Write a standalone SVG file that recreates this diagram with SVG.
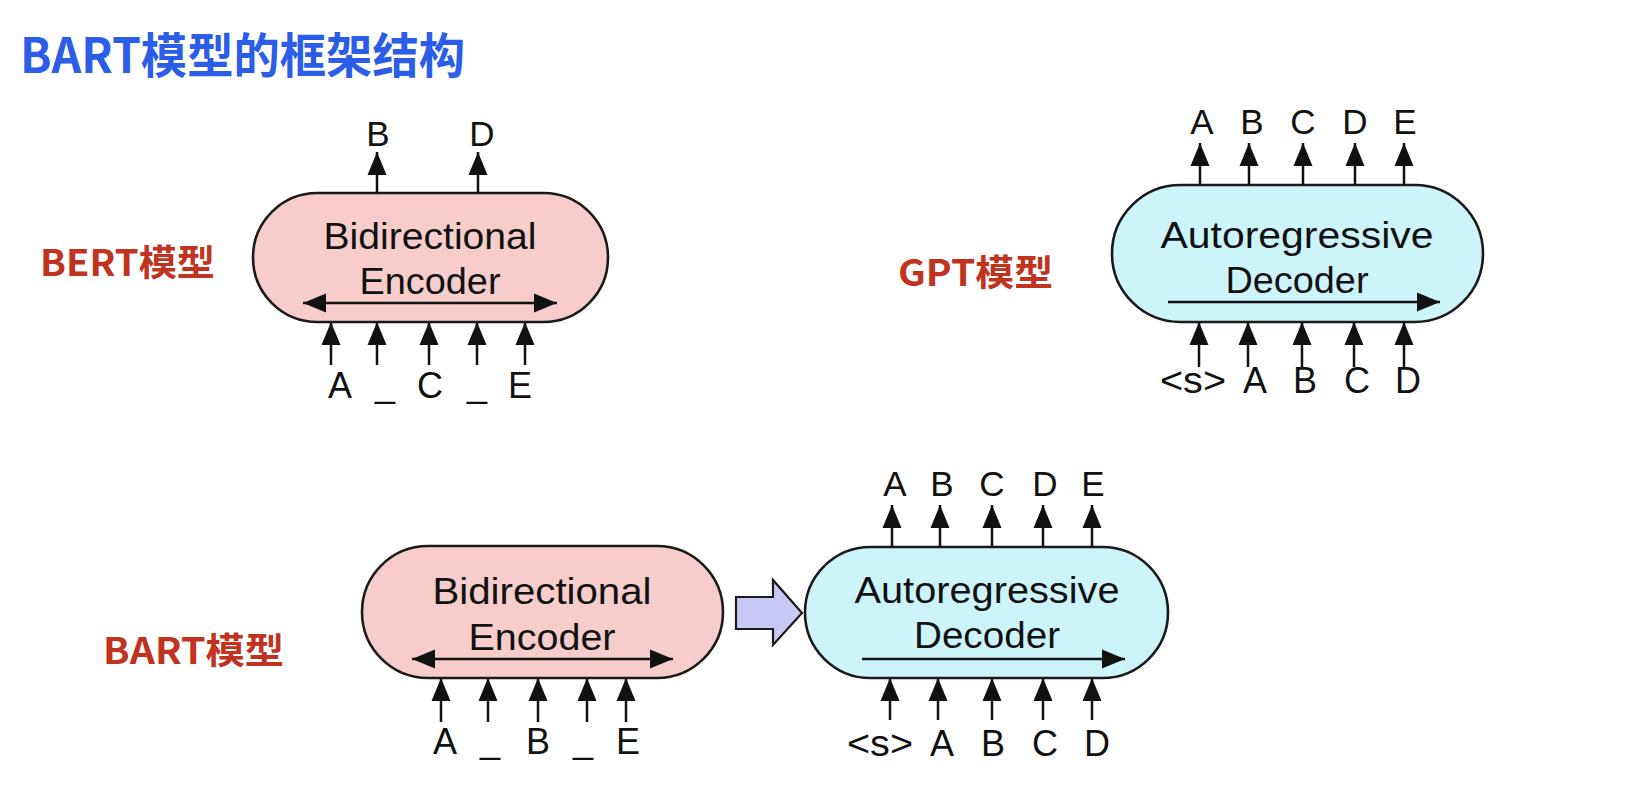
<svg xmlns="http://www.w3.org/2000/svg" width="1642" height="794" viewBox="0 0 1642 794">
<style>
.title{font-family:"Noto Sans CJK SC","Noto Sans",sans-serif;font-weight:700;font-size:48px;fill:#2b5de8}
.lbl{font-family:"Noto Sans CJK SC","Noto Sans",sans-serif;font-weight:700;font-size:36px;fill:#c0331f}
.enc{fill:#f6cdca;stroke:#1a1a1a;stroke-width:2.6}
.dec{fill:#cdf4fb;stroke:#1a1a1a;stroke-width:2.6}
.bt{font-family:"Liberation Sans",Arial,sans-serif;font-size:36px;fill:#111;text-anchor:middle}
.tk{font-family:"Liberation Sans",Arial,sans-serif;font-size:35px;fill:#111;text-anchor:middle}
.tkb{font-family:"Liberation Sans",Arial,sans-serif;font-size:36px;fill:#111;text-anchor:middle}
.ar{stroke:#111;stroke-width:2.5;fill:none;marker-end:url(#ah)}
.dar{stroke:#111;stroke-width:2.5;fill:none;marker-end:url(#ah);marker-start:url(#ah)}
</style>
<defs>
<marker id="ah" markerUnits="userSpaceOnUse" markerWidth="24" markerHeight="20" refX="23" refY="10" orient="auto-start-reverse">
<path d="M0,0.5 L23,10 L0,19.5 z" fill="#111"/>
</marker>
</defs>
<rect width="1642" height="794" fill="#ffffff"/>
<text class="title" x="20" y="73" textLength="445" lengthAdjust="spacingAndGlyphs">BART模型的框架结构</text>

<g id="label-bert"><text class="lbl" x="40" y="276" textLength="175" lengthAdjust="spacingAndGlyphs">BERT模型</text></g>
<g id="label-gpt"><text class="lbl" x="898" y="286" textLength="155" lengthAdjust="spacingAndGlyphs">GPT模型</text></g>
<g id="label-bart"><text class="lbl" x="103" y="664" textLength="181" lengthAdjust="spacingAndGlyphs">BART模型</text></g>

<g id="bert-encoder">
<rect class="enc" x="253" y="193" width="355" height="129" rx="64.5"/>
<text class="bt" x="430" y="249" textLength="213" lengthAdjust="spacingAndGlyphs">Bidirectional</text>
<text class="bt" x="430" y="294" textLength="141" lengthAdjust="spacingAndGlyphs">Encoder</text>
</g>

<g id="gpt-decoder">
<rect class="dec" x="1112" y="185" width="371" height="137" rx="68.5"/>
<text class="bt" x="1297" y="248" textLength="273" lengthAdjust="spacingAndGlyphs">Autoregressive</text>
<text class="bt" x="1297" y="293" textLength="143" lengthAdjust="spacingAndGlyphs">Decoder</text>
</g>

<g id="bart-encoder">
<rect class="enc" x="362" y="546" width="361" height="132" rx="66"/>
<text class="bt" x="542" y="604" textLength="219" lengthAdjust="spacingAndGlyphs">Bidirectional</text>
<text class="bt" x="542" y="650" textLength="147" lengthAdjust="spacingAndGlyphs">Encoder</text>
</g>

<g id="bart-decoder">
<rect class="dec" x="805" y="547" width="363" height="131" rx="65.5"/>
<text class="bt" x="987" y="603" textLength="265" lengthAdjust="spacingAndGlyphs">Autoregressive</text>
<text class="bt" x="987" y="648" textLength="146" lengthAdjust="spacingAndGlyphs">Decoder</text>
</g>

<g id="block-arrow">
<polygon points="736,597 773,597 773,580 802,613 773,645 773,629 736,629" fill="#c9c9f6" stroke="#1a1a1a" stroke-width="2.2" stroke-linejoin="miter"/>
</g>

<g id="connectors">
<line class="dar" x1="303" y1="303" x2="557" y2="303"/>
<line class="ar" x1="377" y1="193" x2="377" y2="152"/>
<line class="ar" x1="478" y1="193" x2="478" y2="152"/>
<line class="ar" x1="331" y1="365" x2="331" y2="322"/>
<line class="ar" x1="377" y1="365" x2="377" y2="322"/>
<line class="ar" x1="429" y1="365" x2="429" y2="322"/>
<line class="ar" x1="477" y1="365" x2="477" y2="322"/>
<line class="ar" x1="525" y1="365" x2="525" y2="322"/>
<line class="ar" x1="1168" y1="302" x2="1440" y2="302"/>
<line class="ar" x1="1200" y1="185" x2="1200" y2="143"/>
<line class="ar" x1="1249" y1="185" x2="1249" y2="143"/>
<line class="ar" x1="1303" y1="185" x2="1303" y2="143"/>
<line class="ar" x1="1355" y1="185" x2="1355" y2="143"/>
<line class="ar" x1="1404" y1="185" x2="1404" y2="143"/>
<line class="ar" x1="1199" y1="367" x2="1199" y2="322"/>
<line class="ar" x1="1248" y1="367" x2="1248" y2="322"/>
<line class="ar" x1="1302" y1="367" x2="1302" y2="322"/>
<line class="ar" x1="1354" y1="367" x2="1354" y2="322"/>
<line class="ar" x1="1404" y1="367" x2="1404" y2="322"/>
<line class="dar" x1="412" y1="659" x2="673" y2="659"/>
<line class="ar" x1="441" y1="722" x2="441" y2="678"/>
<line class="ar" x1="488" y1="722" x2="488" y2="678"/>
<line class="ar" x1="538" y1="722" x2="538" y2="678"/>
<line class="ar" x1="587" y1="722" x2="587" y2="678"/>
<line class="ar" x1="626" y1="722" x2="626" y2="678"/>
<line class="ar" x1="862" y1="659" x2="1125" y2="659"/>
<line class="ar" x1="892" y1="547" x2="892" y2="505"/>
<line class="ar" x1="940" y1="547" x2="940" y2="505"/>
<line class="ar" x1="992" y1="547" x2="992" y2="505"/>
<line class="ar" x1="1043" y1="547" x2="1043" y2="505"/>
<line class="ar" x1="1092" y1="547" x2="1092" y2="505"/>
<line class="ar" x1="890" y1="720" x2="890" y2="678"/>
<line class="ar" x1="938" y1="720" x2="938" y2="678"/>
<line class="ar" x1="992" y1="720" x2="992" y2="678"/>
<line class="ar" x1="1043" y1="720" x2="1043" y2="678"/>
<line class="ar" x1="1092" y1="720" x2="1092" y2="678"/>
</g>

<g id="tokens">
<text class="tk" x="378" y="146">B</text>
<text class="tk" x="482" y="146">D</text>
<text class="tkb" x="340" y="398">A</text>
<text class="tkb" x="385" y="397">_</text>
<text class="tkb" x="430" y="398">C</text>
<text class="tkb" x="477" y="397">_</text>
<text class="tkb" x="520" y="398">E</text>

<text class="tk" x="1202" y="134">A</text>
<text class="tk" x="1252" y="134">B</text>
<text class="tk" x="1303" y="134">C</text>
<text class="tk" x="1355" y="134">D</text>
<text class="tk" x="1405" y="134">E</text>
<text class="tkb" x="1193" y="393" textLength="66" lengthAdjust="spacingAndGlyphs">&lt;s&gt;</text>
<text class="tkb" x="1255" y="393">A</text>
<text class="tkb" x="1305" y="393">B</text>
<text class="tkb" x="1357" y="393">C</text>
<text class="tkb" x="1408" y="393">D</text>

<text class="tkb" x="445" y="754">A</text>
<text class="tkb" x="490" y="753">_</text>
<text class="tkb" x="538" y="754">B</text>
<text class="tkb" x="583" y="753">_</text>
<text class="tkb" x="628" y="754">E</text>

<text class="tk" x="895" y="496">A</text>
<text class="tk" x="942" y="496">B</text>
<text class="tk" x="992" y="496">C</text>
<text class="tk" x="1045" y="496">D</text>
<text class="tk" x="1093" y="496">E</text>
<text class="tkb" x="880" y="756" textLength="66" lengthAdjust="spacingAndGlyphs">&lt;s&gt;</text>
<text class="tkb" x="942" y="756">A</text>
<text class="tkb" x="993" y="756">B</text>
<text class="tkb" x="1045" y="756">C</text>
<text class="tkb" x="1097" y="756">D</text>
</g>
</svg>
